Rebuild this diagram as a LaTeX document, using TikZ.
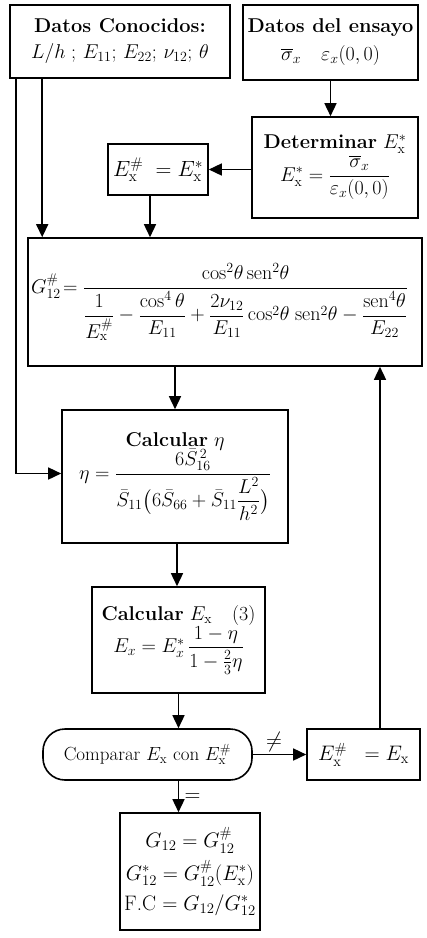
\RequirePackage{fix-cm}
\documentclass[tikz,border=0pt]{standalone}
\usepackage{amsmath}
\usetikzlibrary{arrows.meta,calc}
\begin{document}
\begin{tikzpicture}[x=1pt,y=-1pt,
  box/.style={draw, line width=1.6pt, inner sep=2pt, align=center, anchor=center},
  arr/.style={line width=1.5pt, -{Triangle[length=13pt,width=12pt]}},
  lbl/.style={font=\fontsize{22}{24}\selectfont},
  every node/.append style={font=\fontsize{20}{24}\selectfont}]
\useasboundingbox (0,0) rectangle (427,938);
\node[box, minimum width=220pt, minimum height=73pt] (conoc) at (120,41.5)
  {\textbf{Datos Conocidos:}\\[2pt] $L/h\;;\,E_{11};\,E_{22};\,\nu_{12};\,\theta$};
\node[box, minimum width=175pt, minimum height=75pt] (ensayo) at (330.5,42.5)
  {\textbf{Datos del ensayo}\\[4pt] $\overline{\sigma}_x\quad \varepsilon_x(0,0)$};
\node[box, minimum width=166pt, minimum height=101pt] (determ) at (335,167.5)
  {\textbf{Determinar} $E_{\mathrm{x}}^{*}$\\[0pt] $E_{\mathrm{x}}^{*} = \dfrac{\overline{\sigma}_x}{\varepsilon_x(0,0)}$};
\node[box, minimum width=100pt, minimum height=51pt, font=\fontsize{22}{24}\selectfont] (exhash) at (158,169.5)
  {$E_{\mathrm{x}}^{\#}\;=E_{\mathrm{x}}^{*}$};
\node[box, minimum width=394pt, minimum height=128pt] (big) at (225,302) {};
\node[anchor=west, inner sep=0pt, font=\fontsize{20}{22}\selectfont] (gform) at (31,302)
  {$G_{12}^{\#}\!=\dfrac{\cos^2\!\theta\,\mathrm{sen}^2\theta}{\dfrac{1}{E_{\mathrm{x}}^{\#}}-\dfrac{\cos^4\theta}{E_{11}}+\dfrac{2\nu_{12}}{E_{11}}\cos^2\!\theta\;\mathrm{sen}^2\theta-\dfrac{\mathrm{sen}^4\theta}{E_{22}}}$};
\node[box, minimum width=226pt, minimum height=133pt] (eta) at (175,476.5)
  {\textbf{Calcular} $\eta$\\[-2pt] $\eta=\dfrac{6\bar{S}_{16}^{\,2}}{\bar{S}_{11}\bigl(6\bar{S}_{66}+\bar{S}_{11}\dfrac{L^2}{h^2}\bigr)}$};
\node[box, minimum width=173pt, minimum height=106pt] (ex) at (178.5,640)
  {\textbf{Calcular} $E_{\mathrm{x}}$\quad(3)\\[0pt] $E_x = E_x^{*}\,\dfrac{1-\eta}{1-\frac{2}{3}\eta}$};
\node[box, minimum width=209pt, minimum height=51pt, rounded corners=22pt, font=\fontsize{19}{22}\selectfont] (comp) at (147.5,754.5)
  {Comparar $E_{\mathrm{x}}$ con $E_{\mathrm{x}}^{\#}$};
\node[box, minimum width=113pt, minimum height=51pt, font=\fontsize{21}{24}\selectfont] (exeq) at (363.5,754.5)
  {$E_{\mathrm{x}}^{\#}\;\;=E_{\mathrm{x}}$};
\node[box, minimum width=140pt, minimum height=117pt, font=\fontsize{21}{24}\selectfont] (final) at (190,871.5)
  {$G_{12}=G^{\#}_{12}$\\[6pt] $G^{*}_{12}=G^{\#}_{12}(E_{\mathrm{x}}^{*})$\\[6pt] F.C $=G_{12}/G^{*}_{12}$};
% connectors
\coordinate (c1) at ($(conoc.south west)+(33,0)$);
\coordinate (c2) at ($(conoc.south west)+(7,0)$);
\coordinate (c3) at ($(exeq.north)+(16.5,0)$);
\draw[arr] (ensayo.south) -- (ensayo.south |- determ.north);
\draw[arr] (exhash.east -| determ.west) -- (exhash.east);
\draw[arr] ($(exhash.south)+(-8,0)$) -- ($(exhash.south |- big.north)+(-8,0)$);
\draw[arr] (c1) -- (c1 |- big.north);
\draw[arr] (c2) |- ($(eta.west)+(0,-3)$);
\draw[arr] (eta.north |- big.south) -- (eta.north);
\draw[arr] ($(eta.south)+(2,0)$) -- ($(eta.south |- ex.north)+(2,0)$);
\draw[arr] (ex.south) -- (ex.south |- comp.north);
\draw[arr] (comp.east) -- node[lbl, above=-1pt, pos=0.4] (ne) {$\neq$} (exeq.west);
\draw[arr] (c3) -- (c3 |- big.south);
\draw[arr] (ex.south |- comp.south) -- node[lbl, right=2pt, pos=0.55] (eq) {$=$} (ex.south |- final.north);
\end{tikzpicture}
\end{document}
